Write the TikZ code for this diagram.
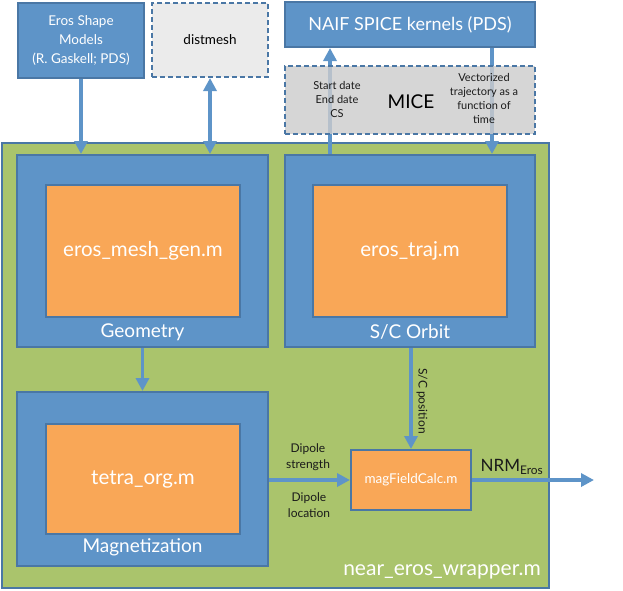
\documentclass[tikz,border=0pt]{standalone}
\usepackage{fontspec}
\setmainfont{Lato}
\usetikzlibrary{arrows.meta}
\definecolor{boxblue}{HTML}{5E94C8}
\definecolor{edgeblue}{HTML}{4A77A5}
\definecolor{wrapgreen}{HTML}{AAC46C}
\definecolor{codeorange}{HTML}{F9A757}
\definecolor{micegrey}{HTML}{CCCCCC}
\definecolor{meshgrey}{HTML}{EBEBEB}
\definecolor{labelink}{HTML}{1A1A1A}

\begin{document}
\begin{tikzpicture}[x=1pt, y=-1pt,
  blk/.style={draw=edgeblue, line width=2pt, fill=boxblue, inner sep=0pt, text=white, align=center},
  code/.style={draw=edgeblue, line width=2pt, fill=codeorange, inner sep=0pt, text=white, align=center},
  ext/.style={draw=edgeblue, line width=2pt, dash pattern=on 5pt off 3pt, inner sep=0pt, align=center},
  tag/.style={text=white, inner sep=0pt, font=\fontsize{19}{21}\selectfont},
  note/.style={text=labelink, inner sep=0pt, align=center, font=\fontsize{12}{16}\selectfont},
  flow/.style={draw=boxblue, line width=3.5pt, -{Triangle[width=13pt,length=13pt]}},
  both/.style={draw=boxblue, line width=3.5pt, {Triangle[width=13pt,length=13pt]}-{Triangle[width=13pt,length=13pt]}}]

\useasboundingbox (0,0) rectangle (623,590);

\node (wrap) [draw=edgeblue, line width=2pt, fill=wrapgreen, minimum width=547pt, minimum height=445pt, inner sep=0pt] at (275.5,365.5) {};

\node (shape) [blk, minimum width=126pt, minimum height=75pt, font=\fontsize{13.5}{19}\selectfont] at (81,40.5) {Eros Shape\\Models\\(R. Gaskell; PDS)};
\node (mesh) [ext, fill=meshgrey, minimum width=116pt, minimum height=74pt, font=\fontsize{13.5}{15}\selectfont] at (210,40) {distmesh};
\node (naif) [blk, minimum width=250pt, minimum height=45pt, font=\fontsize{18}{20}\selectfont] at (410,24.5) {NAIF SPICE kernels (PDS)};

\node (geom) [blk, minimum width=251pt, minimum height=192pt] at (142.5,251) {};
\node (geomcode) [code, minimum width=194pt, minimum height=132pt, font=\fontsize{20.5}{22}\selectfont] at (143,251) {eros\_mesh\_gen.m};
\node (geomtag) [tag] at (142.5,332) {Geometry};

\node (orbit) [blk, minimum width=250pt, minimum height=192pt] at (410,251) {};
\node (orbitcode) [code, minimum width=194pt, minimum height=132pt, font=\fontsize{20.5}{22}\selectfont] at (410,251) {eros\_traj.m};
\node (orbittag) [tag] at (410,332) {S/C Orbit};

\node (magn) [blk, minimum width=251pt, minimum height=174pt] at (142.5,479) {};
\node (magncode) [code, minimum width=194pt, minimum height=110pt, font=\fontsize{20.5}{22}\selectfont] at (143,479) {tetra\_org.m};
\node (magntag) [tag] at (142.5,547) {Magnetization};

\node (calc) [code, minimum width=120pt, minimum height=60pt, font=\fontsize{13.5}{15}\selectfont] at (411,480) {magFieldCalc.m};

\node (wraptag) [tag, anchor=east, font=\fontsize{21}{23}\selectfont] at (541,572) {near\_eros\_wrapper.m};

\draw [flow] (shape.south) -- (shape.south |- geom.north);
\draw [both] (mesh.south) -- (mesh.south |- geom.north);
\draw [flow] (orbit.north -| 330,0) -- (naif.south -| 330,0);
\draw [flow] (naif.south -| 492,0) -- (orbit.north -| 492,0);
\draw [flow] (geom.south) -- (magn.north);
\draw [flow] (orbit.south -| calc.north) -- (calc.north);
\draw [flow] (magn.east |- calc.west) -- (calc.west);
\coordinate (nrmend) at (594,480);
\draw [flow] (calc.east) -- (nrmend);

\node (mice) [ext, fill=micegrey, fill opacity=0.8, text opacity=1, minimum width=250pt, minimum height=68pt] at (410,100) {};
\node (micetag) [inner sep=0pt, font=\fontsize{19}{21}\selectfont] at (411,102) {MICE};
\node (request) [note, font=\fontsize{11}{14}\selectfont] at (337,99) {Start date\\End date\\CS};
\node (reply) [note, font=\fontsize{11}{14}\selectfont] at (484,98) {Vectorized\\trajectory as a\\function of\\time};

\node (position) [note, rotate=-90] at (422,401) {S/C position};
\node (strength) [note] at (308,457) {Dipole\\strength};
\node (location) [note] at (309,505) {Dipole\\location};
\node (nrm) [inner sep=0pt, text=labelink, font=\fontsize{17}{19}\selectfont] at (512,467) {NRM\textsubscript{Eros}};
\end{tikzpicture}
\end{document}
